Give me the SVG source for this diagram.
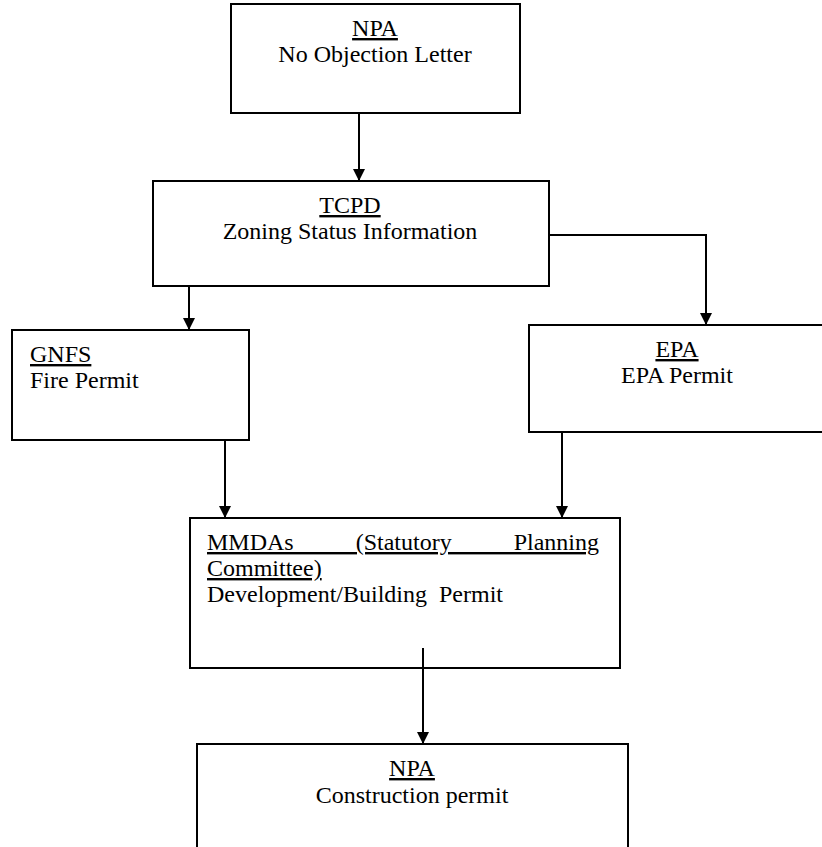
<svg xmlns="http://www.w3.org/2000/svg" width="822" height="847" viewBox="0 0 822 847">
<defs>
<style>
.box{fill:#fff;stroke:#000;stroke-width:2}
.t{font-family:"Liberation Serif","Times New Roman",serif;font-size:24px;fill:#000}
.c{text-anchor:middle}
.u{text-decoration:underline}
.ln{fill:none;stroke:#000;stroke-width:2}
</style>
<marker id="ah" markerWidth="12" markerHeight="13" refX="12" refY="6" orient="auto" markerUnits="userSpaceOnUse">
<path d="M0,0 L12,6 L0,12 Z" fill="#000"/>
</marker>
</defs>
<rect width="822" height="847" fill="#fff"/>
<g id="npa1">
<rect class="box" x="231" y="4" width="289" height="109"/>
<text class="t c u" x="375" y="36">NPA</text>
<text class="t c" x="375" y="62">No Objection Letter</text>
</g>
<g id="tcpd">
<rect class="box" x="153" y="181" width="396" height="105"/>
<text class="t c u" x="350" y="213">TCPD</text>
<text class="t c" x="350" y="239">Zoning Status Information</text>
</g>
<g id="gnfs">
<rect class="box" x="12" y="330" width="237" height="110"/>
<text class="t u" x="30" y="362">GNFS</text>
<text class="t" x="30" y="388">Fire Permit</text>
</g>
<g id="epa">
<rect class="box" x="529" y="325" width="297" height="107"/>
<text class="t c u" x="677" y="357">EPA</text>
<text class="t c" x="677" y="383">EPA Permit</text>
</g>
<g id="mmdas">
<rect class="box" x="190" y="518" width="430" height="150"/>
<text class="t u" x="207" y="550" style="word-spacing:56px">MMDAs (Statutory Planning</text>
<text class="t u" x="207" y="576">Committee)</text>
<text class="t" x="207" y="602" xml:space="preserve">Development/Building  Permit</text>
</g>
<g id="npa2">
<rect class="box" x="197" y="744" width="431" height="120"/>
<text class="t c u" x="412" y="776">NPA</text>
<text class="t c" x="412" y="803">Construction permit</text>
</g>
<g id="connectors">
<path class="ln" d="M359,113 V181" marker-end="url(#ah)"/>
<path class="ln" d="M189,286 V330" marker-end="url(#ah)"/>
<path class="ln" d="M549,235 H706 V325" marker-end="url(#ah)"/>
<path class="ln" d="M225,440 V518" marker-end="url(#ah)"/>
<path class="ln" d="M562,432 V518" marker-end="url(#ah)"/>
<path class="ln" d="M423,648 V744" marker-end="url(#ah)"/>
</g>
</svg>
